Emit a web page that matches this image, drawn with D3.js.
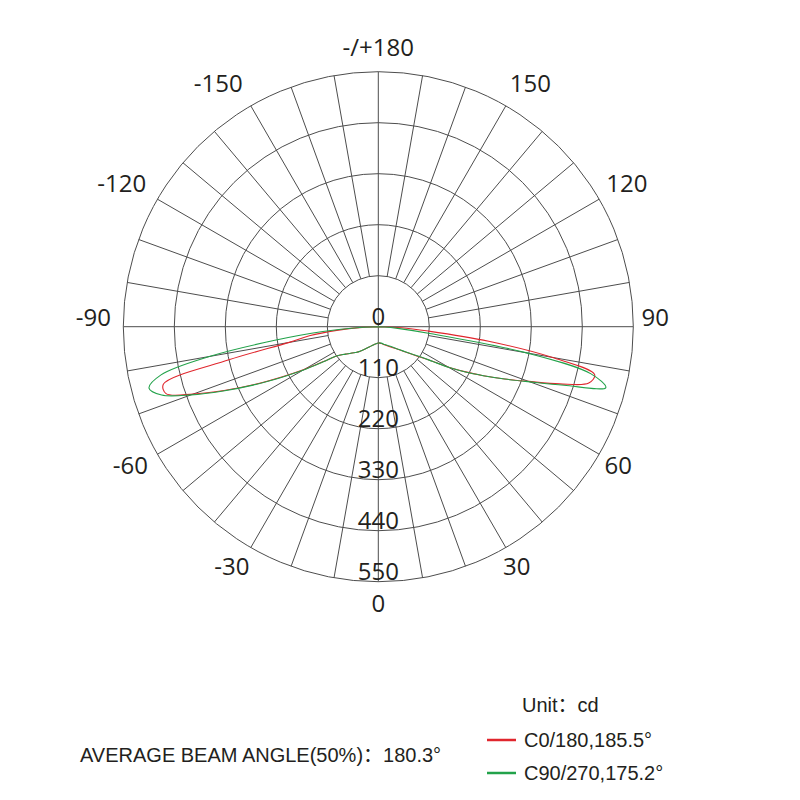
<!DOCTYPE html>
<html>
<head>
<meta charset="utf-8">
<script src="https://cdn.jsdelivr.net/npm/d3@7"></script>
<style>
  body { margin: 0; background: #fff; }
</style>
</head>
<body>
<div id="chart"></div>
<script>
// gamma angles (deg): 0 = nadir (bottom), +90 = right, -90 = left
const ANGLES = [-90, -87.5, -85, -82.5, -80, -77.5, -75, -72.5, -70, -67.5, -65, -62.5, -60, -57.5, -55,
  -50, -45, -40, -30, -20, -10, 0, 10, 20, 30, 40, 45, 50,
  55, 57.5, 60, 62.5, 65, 67.5, 70, 72.5, 75, 77.5, 80, 82.5, 85, 87.5, 90];
// intensity, cd
const C0 = [0, 35, 90, 150, 195, 330, 480, 480, 425, 360, 295, 235, 185, 140, 110,
  92, 80, 72, 55, 44, 38, 35, 37, 42, 50, 63, 74, 91,
  118, 140, 175, 210, 250, 295, 345, 410, 470, 478, 380, 240, 108, 50, 0];
const C90 = [0, 40, 120, 225, 370, 480, 512, 490, 430, 362, 298, 238, 188, 142, 110,
  92, 80, 72, 55, 44, 38, 35, 36, 41, 48, 62, 73, 90,
  116, 140, 175, 212, 250, 295, 348, 420, 508, 470, 325, 112, 42, 14, 0];

const RINGS = [110, 220, 330, 440, 550];
const RING_LABELS = [0, 110, 220, 330, 440, 550];
const ANGLE_TICKS = [0, 30, 60, 90, 120, 150, 180, -150, -120, -90, -60, -30];
const ANGLE_TEXT = ["0", "30", "60", "90", "120", "150", "-/+180", "-150", "-120", "-90", "-60", "-30"];

const SERIES = [
  { name: "C0/180,185.5°", color: "#e0262d", values: C0 },
  { name: "C90/270,175.2°", color: "#22a24a", values: C90 },
];
const UNIT = "Unit：cd";
const BEAM = "AVERAGE BEAM ANGLE(50%)：180.3°";

const W = 800, H = 800, CX = 378.3, CY = 326.7, R = 255;
const GRID = "#4d4d4d", INK = "#231f20";
const NUM_FONT = "'Open Sans', 'DejaVu Sans', sans-serif";
const TXT_FONT = "'Liberation Sans', Arial, 'Noto Sans CJK SC', sans-serif";

const rad = d => d * Math.PI / 180;
const r = d3.scaleLinear().domain([0, 550]).range([0, R]);

const svg = d3.select("#chart").append("svg")
  .attr("width", W).attr("height", H)
  .attr("viewBox", `0 0 ${W} ${H}`);

const g = svg.append("g").attr("transform", `translate(${CX},${CY})`);

// rings
g.selectAll("circle.ring").data(RINGS).join("circle")
  .attr("class", "ring")
  .attr("r", d => r(d))
  .attr("fill", "none").attr("stroke", GRID).attr("stroke-width", 1);

// spokes every 10 deg: cardinal ones through the centre, the rest from the first ring
d3.range(0, 360, 10).forEach(a => {
  const r0 = a % 90 === 0 ? 0 : r(RINGS[0]);
  const t = rad(a);
  g.append("line")
    .attr("x1", r0 * Math.sin(t)).attr("y1", r0 * Math.cos(t))
    .attr("x2", R * Math.sin(t)).attr("y2", R * Math.cos(t))
    .attr("stroke", GRID).attr("stroke-width", 1);
});

// curves (C0 under C90)
const line = d3.lineRadial()
  .angle(d => Math.PI - rad(d.a))
  .radius(d => r(d.v))
  .curve(d3.curveCatmullRom.alpha(0.5));

SERIES.forEach(s => {
  const pts = ANGLES.map((a, i) => ({ a, v: s.values[i] }));
  g.append("path")
    .attr("d", line(pts))
    .attr("fill", "none")
    .attr("stroke", s.color)
    .attr("stroke-width", 1.1);
});

// intensity labels along the nadir axis
g.selectAll("text.rl").data(RING_LABELS).join("text")
  .attr("class", "rl")
  .attr("x", 0).attr("y", d => r(d) - 1.5)
  .attr("text-anchor", "middle")
  .attr("style", `font:24px ${NUM_FONT};fill:${INK}`)
  .text(d => d);

// angle labels (upper half sits a bit further out, ±90 sit just above the axis)
ANGLE_TICKS.forEach((a, i) => {
  const up = Math.abs(a) > 90 && Math.abs(a) < 180;
  const lr = a === 180 ? 279 : up ? 287 : 277;
  const pa = Math.abs(a) === 150 ? a - Math.sign(a) * 2 : a;
  const t = rad(pa);
  const shift = a < 0 ? -8 : 0;
  const lift = Math.abs(a) === 90 ? -9 : 0;
  g.append("text")
    .attr("x", lr * Math.sin(t) + shift)
    .attr("y", lr * Math.cos(t) + 8.5 + lift)
    .attr("text-anchor", "middle")
    .attr("style", `font:24px ${NUM_FONT};fill:${INK}`)
    .text(ANGLE_TEXT[i]);
});

// footer
svg.append("text")
  .attr("x", 522).attr("y", 712)
  .attr("style", `font:20px ${TXT_FONT};fill:${INK}`)
  .text(UNIT);

SERIES.forEach((s, i) => {
  const y = 740 + i * 33;
  svg.append("line")
    .attr("x1", 487).attr("x2", 516).attr("y1", y).attr("y2", y)
    .attr("stroke", s.color).attr("stroke-width", 2.5);
  svg.append("text")
    .attr("x", 524).attr("y", y + 7)
    .attr("style", `font:20px ${TXT_FONT};fill:${INK}`)
    .text(s.name);
});

svg.append("text")
  .attr("x", 80).attr("y", 762)
  .attr("style", `font:20px ${TXT_FONT};fill:${INK}`)
  .text(BEAM);
</script>
</body>
</html>
